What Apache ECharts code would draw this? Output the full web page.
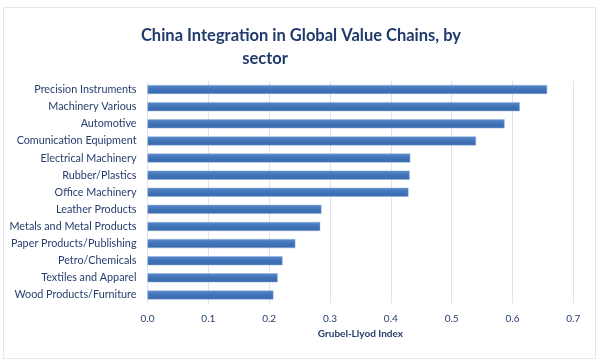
<!DOCTYPE html>
<html><head><meta charset="utf-8">
<script src="https://cdn.jsdelivr.net/npm/echarts@6/dist/echarts.min.js"></script>
<style>html,body{margin:0;padding:0;background:#fff}#c{width:600px;height:363px}</style>
</head><body><div id="c"></div>
<script>
var categories = ["Precision Instruments","Machinery Various","Automotive","Comunication Equipment","Electrical Machinery","Rubber/Plastics","Office Machinery","Leather Products","Metals and Metal Products","Paper Products/Publishing","Petro/Chemicals","Textiles and Apparel","Wood Products/Furniture"];
var values = [0.657,0.612,0.587,0.540,0.432,0.431,0.429,0.286,0.284,0.243,0.222,0.214,0.207];
var xTicks = [0,0.1,0.2,0.3,0.4,0.5,0.6,0.7];
var titleLine1 = "China Integration in Global Value Chains, by";
var titleLine2 = "sector";
var xAxisTitle = "Grubel-Llyod Index";

var chart = echarts.init(document.getElementById('c'), null, {renderer:'canvas'});
var font = 'Lato';
chart.setOption({
  animation:false,
  graphic:[{type:'rect',shape:{x:3.5,y:7.5,width:592,height:351},style:{fill:'none',stroke:'#e3e8f1',lineWidth:1}}],
  title:[
    {text:titleLine1,left:296,top:22,textAlign:'center',textStyle:{fontFamily:font,fontWeight:'bold',fontSize:16.5,color:'#1f3a6b'}},
    {text:titleLine2,left:260,top:45.5,textAlign:'center',textStyle:{fontFamily:font,fontWeight:'bold',fontSize:16.5,color:'#1f3a6b'}}
  ],
  grid:{left:147.5,right:26.7,top:81,bottom:59.5,containLabel:false},
  xAxis:{type:'value',min:0,max:0.7,interval:0.1,
    name:xAxisTitle,nameLocation:'middle',nameGap:22,
    nameTextStyle:{fontFamily:font,fontWeight:'bold',fontSize:10,color:'#253d6d'},
    axisLine:{show:false},axisTick:{show:false},
    axisLabel:{fontFamily:font,fontSize:10,color:'#253d6d',margin:10,formatter:function(v){return v.toFixed(1);}},
    splitLine:{show:true,lineStyle:{color:'#dce4f0',width:1}}
  },
  yAxis:{type:'category',data:categories,inverse:true,
    axisLine:{show:false},axisTick:{show:false},
    axisLabel:{fontFamily:font,fontSize:10.8,color:'#253d6d',margin:11},
    splitLine:{show:false}
  },
  series:[{type:'bar',data:values,barWidth:9,
    itemStyle:{color:new echarts.graphic.LinearGradient(0,0,0,1,[{offset:0,color:'#5b8acb'},{offset:0.5,color:'#3f72b6'},{offset:1,color:'#3a6aad'}]),borderColor:'#8fb0dc',borderWidth:0.5}
  }]
});
</script></body></html>
